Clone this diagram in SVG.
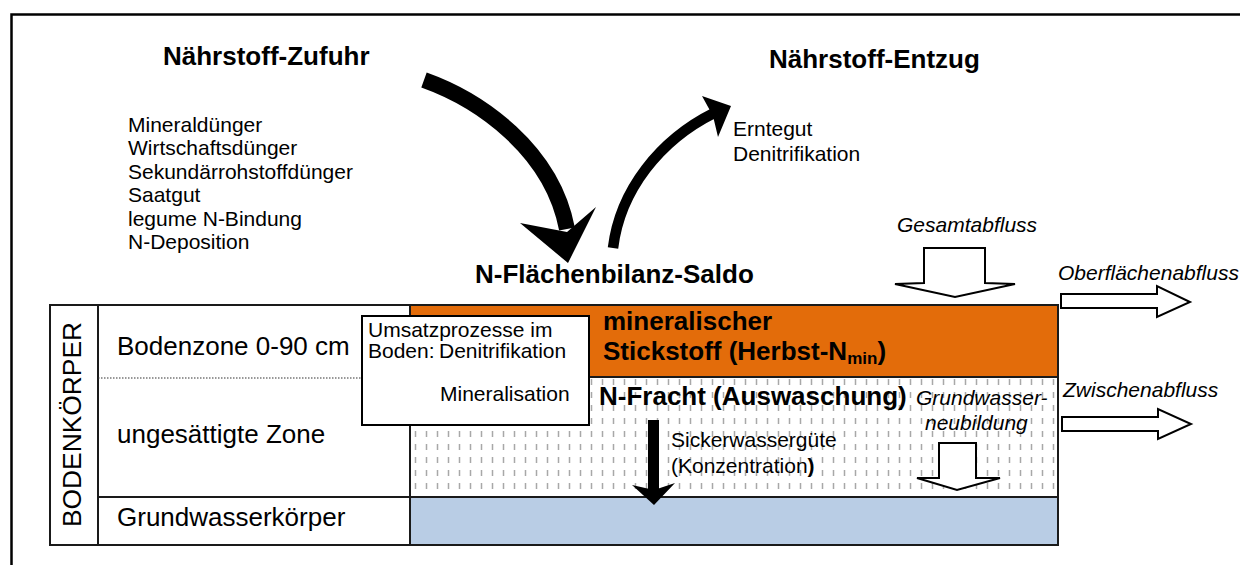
<svg xmlns="http://www.w3.org/2000/svg" width="1240" height="565" viewBox="0 0 1240 565">
<defs>
<pattern id="hatch" width="11" height="13" patternUnits="userSpaceOnUse" x="410" y="377">
<rect width="11" height="13" fill="#fff"/>
<line x1="5.5" y1="2" x2="5.5" y2="8" stroke="#a8a8a8" stroke-width="1.5"/>
</pattern>
<style>
text { font-family: "Liberation Sans", Arial, sans-serif; fill: #000; }
.b { font-weight: bold; font-size: 26px; }
.r { font-size: 21px; }
.lbl { font-size: 26px; }
.it { font-style: italic; font-size: 21px; }
.cell { fill: #fff; stroke: #1a1a1a; stroke-width: 2; }
.blk { fill: #fff; stroke: #000; stroke-width: 2; }
</style>
</defs>
<rect width="1240" height="565" fill="#fff"/>
<path d="M11.5 565 V14.5 H1240" fill="none" stroke="#000" stroke-width="2.5"/>

<g id="zufuhr">
<text class="b" x="163" y="65">Nährstoff-Zufuhr</text>
<text class="r" x="128" y="131.5">Mineraldünger</text>
<text class="r" x="128" y="155">Wirtschaftsdünger</text>
<text class="r" x="128" y="178.5">Sekundärrohstoffdünger</text>
<text class="r" x="128" y="202">Saatgut</text>
<text class="r" x="128" y="225.5">legume N-Bindung</text>
<text class="r" x="128" y="249">N-Deposition</text>
</g>

<g id="entzug">
<text class="b" x="769" y="68">Nährstoff-Entzug</text>
<text class="r" x="733" y="136">Erntegut</text>
<text class="r" x="733" y="161">Denitrifikation</text>
</g>

<g id="saldo">
<text class="b" x="475" y="283" font-size="25.5">N-Flächenbilanz-Saldo</text>
</g>

<g id="bodenkoerper">
<rect class="cell" x="50" y="305" width="48" height="240"/>
<text class="lbl" transform="translate(81,527) rotate(-90)" x="0" y="0" textLength="205" lengthAdjust="spacingAndGlyphs">BODENKÖRPER</text>
</g>

<g id="zonen">
<rect class="cell" x="98" y="305" width="312" height="240"/>
<line x1="98" y1="497" x2="410" y2="497" stroke="#1a1a1a" stroke-width="2"/>
<line x1="98" y1="378" x2="362" y2="378" stroke="#333" stroke-width="1.2" stroke-dasharray="1.5 1.5"/>
<text class="lbl" x="117" y="355">Bodenzone 0-90 cm</text>
<text class="lbl" x="117" y="443">ungesättigte Zone</text>
<text class="lbl" x="117" y="526">Grundwasserkörper</text>
</g>

<g id="nmin">
<rect x="410" y="305" width="648" height="72" fill="#E36C0A" stroke="#1a1a1a" stroke-width="2"/>
<text class="b" x="603" y="330">mineralischer</text>
<text class="b" x="603" y="360">Stickstoff (Herbst-N<tspan font-size="17" dy="4">min</tspan><tspan dy="-4">)</tspan></text>
</g>

<g id="nfracht">
<rect x="410" y="377" width="648" height="120" fill="url(#hatch)" stroke="#1a1a1a" stroke-width="2"/>
<text class="b" x="599" y="405">N-Fracht (Auswaschung)</text>
<text class="r" x="671" y="447">Sickerwassergüte</text>
<text class="r" x="671" y="473">(Konzentration<tspan font-weight="bold">)</tspan></text>
<text class="it" x="916" y="405">Grundwasser-</text>
<text class="it" x="925" y="430">neubildung</text>
</g>

<g id="grundwasser">
<rect x="410" y="497" width="648" height="48" fill="#B9CDE5" stroke="#1a1a1a" stroke-width="2"/>
</g>

<g id="umsatz">
<rect x="362" y="316" width="227" height="109" fill="#fff" stroke="#000" stroke-width="2"/>
<text class="r" x="368" y="337">Umsatzprozesse im</text>
<text class="r" x="368" y="358">Boden:</text>
<text class="r" x="439" y="358">Denitrifikation</text>
<text class="r" x="440" y="401">Mineralisation</text>
</g>

<g id="abfluss-labels">
<text class="it" x="897" y="232">Gesamtabfluss</text>
<text class="it" x="1058" y="280">Oberflächenabfluss</text>
<text class="it" x="1063" y="397">Zwischenabfluss</text>
</g>

<g id="connectors">
<path d="M424 80 C480 100 552 150 567 229" fill="none" stroke="#000" stroke-width="16"/>
<polygon points="520,223 568,263 596,207 567,232" fill="#000"/>
<path d="M613 248 C620 190 660 140 714 113" fill="none" stroke="#000" stroke-width="10.5"/>
<polygon points="702,96 731,106 718,137 713,116" fill="#000"/>
<rect x="648" y="420" width="11" height="72" fill="#000"/>
<polygon points="632,485 654,505 675,483 654,490" fill="#000"/>
<polygon class="blk" points="924,248 985,248 985,283 1015,284 955,297 895,284 924,283"/>
<polygon class="blk" points="1061,294 1157,294 1157,286 1190,302 1157,317 1157,308 1061,308"/>
<polygon class="blk" points="1062,417 1158,417 1158,409 1191,424 1158,439 1158,431 1062,431"/>
<polygon class="blk" points="939,443 976,443 976,478 1000,478 957,490 917,478 939,478"/>
</g>
</svg>
